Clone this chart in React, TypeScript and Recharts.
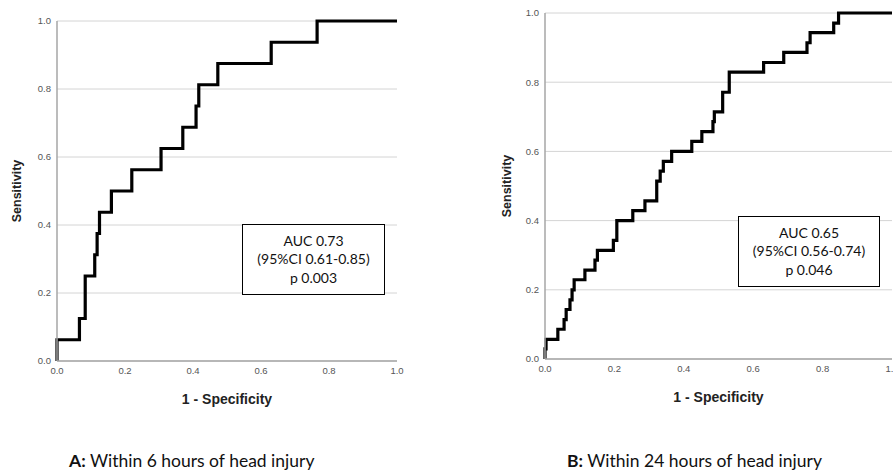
import { LineChart, Line, XAxis, YAxis, CartesianGrid } from 'recharts';

// ROC points (1 - specificity, sensitivity)
const LEFT_FPR = [0, 0, 0.066, 0.083, 0.111, 0.118, 0.125, 0.16, 0.22, 0.306, 0.37, 0.409, 0.417, 0.473, 0.63, 0.765, 1];
const LEFT_TPR = [0, 0.0625, 0.125, 0.25, 0.3125, 0.375, 0.4375, 0.5, 0.5625, 0.625, 0.6875, 0.75, 0.8125, 0.875, 0.9375, 1, 1];

const RIGHT_FPR = [
  0, 0, 0.003, 0.037, 0.055, 0.061, 0.072, 0.078, 0.084, 0.115, 0.144, 0.151, 0.197, 0.207, 0.253, 0.288,
  0.322, 0.332, 0.341, 0.365, 0.423, 0.452, 0.484, 0.488, 0.512, 0.531, 0.63, 0.688, 0.755, 0.764, 0.832, 0.846, 1,
];
const RIGHT_TPR = [
  0, 0.029, 0.057, 0.086, 0.114, 0.143, 0.171, 0.2, 0.229, 0.257, 0.286, 0.314, 0.343, 0.4, 0.429, 0.457,
  0.514, 0.543, 0.571, 0.6, 0.629, 0.657, 0.686, 0.714, 0.771, 0.829, 0.857, 0.886, 0.914, 0.943, 0.971, 1, 1,
];

const TICKS = [0, 0.2, 0.4, 0.6, 0.8, 1.0];

const LEFT_STATS = ['AUC 0.73', '(95%CI 0.61-0.85)', 'p 0.003'];
const RIGHT_STATS = ['AUC 0.65', '(95%CI 0.56-0.74)', 'p 0.046'];

const AXIS_FONT = '"Liberation Sans", Arial, sans-serif';
const TEXT_FONT = 'Lato, "Noto Sans", sans-serif';

function toRows(fpr: number[], tpr: number[]) {
  return fpr.map((x, i) => ({ fpr: x, tpr: tpr[i] }));
}

interface RocProps {
  fpr: number[];
  tpr: number[];
  width: number;
  height: number;
  top: number;
  right: number;
  yWidth: number;
}

function RocChart({ fpr, tpr, width, height, top, right, yWidth }: RocProps) {
  const tick = { fill: '#555', fontSize: 9.5, fontFamily: AXIS_FONT };
  return (
    <LineChart width={width} height={height} data={toRows(fpr, tpr)} margin={{ top, right, left: 0, bottom: 0 }}>
      <CartesianGrid vertical={false} stroke="#d4d4d4" horizontalValues={TICKS} />
      <XAxis
        type="number"
        dataKey="fpr"
        domain={[0, 1]}
        ticks={TICKS}
        tickFormatter={(v: number) => v.toFixed(1)}
        tick={tick}
        tickLine={false}
        tickMargin={0}
        axisLine={{ stroke: '#a6a6a6', strokeWidth: 1.5 }}
        height={59}
        label={{
          value: '1 - Specificity',
          position: 'insideBottom',
          offset: 16,
          style: { fill: '#222', fontSize: 14, fontWeight: 'bold', fontFamily: AXIS_FONT },
        }}
      />
      <YAxis
        type="number"
        domain={[0, 1]}
        ticks={TICKS}
        tickFormatter={(v: number) => v.toFixed(1)}
        tick={tick}
        tickLine={false}
        tickMargin={0}
        axisLine={{ stroke: '#a6a6a6', strokeWidth: 1.5 }}
        width={yWidth}
        label={{
          value: 'Sensitivity',
          angle: -90,
          position: 'insideLeft',
          offset: 17,
          style: { textAnchor: 'middle', fill: '#222', fontSize: 12.5, fontWeight: 'bold', fontFamily: AXIS_FONT },
        }}
      />
      <Line
        type="stepAfter"
        dataKey="tpr"
        stroke="#000"
        strokeWidth={3.2}
        dot={false}
        isAnimationActive={false}
      />
    </LineChart>
  );
}

function StatsBox({ lines, left, top, width, height }: { lines: string[]; left: number; top: number; width: number; height: number }) {
  return (
    <div
      style={{
        position: 'absolute',
        left,
        top,
        width,
        height,
        boxSizing: 'border-box',
        border: '1px solid #000',
        background: '#fff',
        display: 'flex',
        flexDirection: 'column',
        justifyContent: 'center',
        alignItems: 'center',
        fontFamily: TEXT_FONT,
        fontSize: 14,
        lineHeight: '18.5px',
        color: '#111',
      }}
    >
      {lines.map((l) => (
        <div key={l}>{l}</div>
      ))}
    </div>
  );
}

const captionStyle = {
  position: 'absolute' as const,
  top: 450,
  fontFamily: TEXT_FONT,
  fontSize: 17.5,
  color: '#111',
  whiteSpace: 'nowrap' as const,
};

export default function App() {
  return (
    <div
      style={{
        position: 'fixed',
        left: 0,
        top: 0,
        width: 893,
        height: 473,
        overflow: 'hidden',
        background: '#fff',
      }}
    >
      <div style={{ position: 'absolute', left: 0, top: 0 }}>
        <RocChart fpr={LEFT_FPR} tpr={LEFT_TPR} width={420} height={420} top={21} right={23} yWidth={57} />
      </div>
      <div style={{ position: 'absolute', left: 490, top: 0 }}>
        <RocChart fpr={RIGHT_FPR} tpr={RIGHT_TPR} width={412} height={418} top={13} right={10} yWidth={55} />
      </div>

      <StatsBox lines={LEFT_STATS} left={242} top={224} width={143} height={71} />
      <StatsBox lines={RIGHT_STATS} left={738} top={216} width={142} height={71} />

      <div style={{ ...captionStyle, left: 69 }}>
        <b>A:</b> Within 6 hours of head injury
      </div>
      <div style={{ ...captionStyle, left: 567 }}>
        <b>B:</b> Within 24 hours of head injury
      </div>
    </div>
  );
}
